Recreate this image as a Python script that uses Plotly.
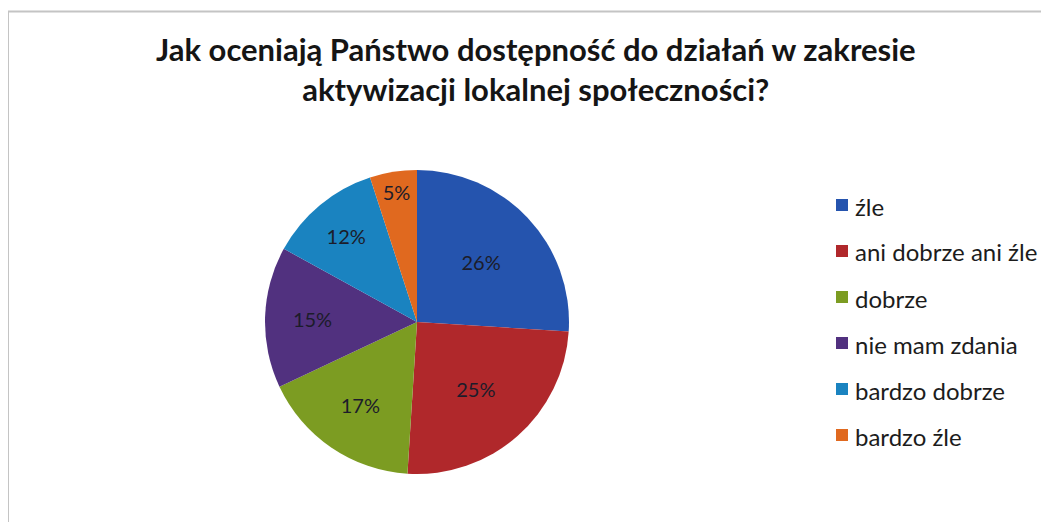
import plotly.graph_objects as go

categories = ["źle", "ani dobrze ani źle", "dobrze", "nie mam zdania", "bardzo dobrze", "bardzo źle"]
values = [26, 25, 17, 15, 12, 5]
colors = ["#2554AE", "#B0282B", "#7C9C22", "#51317F", "#1A83C0", "#E0691F"]
title_lines = ["Jak oceniają Państwo dostępność do działań w zakresie",
               "aktywizacji lokalnej społeczności?"]

W, H = 1049, 522
OFF = 8  # page body margin
cx, cy, r = 417 - OFF, 322 - OFF, 152

fig = go.Figure()
fig.add_trace(go.Pie(
    labels=categories,
    values=values,
    sort=False,
    direction="clockwise",
    rotation=0,
    marker=dict(colors=colors, line=dict(width=0)),
    textinfo="percent",
    texttemplate="%{percent:.0%}",
    textposition="inside",
    insidetextorientation="horizontal",
    insidetextfont=dict(family="Lato", size=20, color="#1c1c2a"),
    showlegend=False,
    hoverinfo="label+percent",
    domain=dict(x=[(cx - r) / W, (cx + r) / W], y=[1 - (cy + r) / H, 1 - (cy - r) / H]),
))

shapes = [dict(type="rect", xref="paper", yref="paper",
               x0=0.0 / W, x1=1.02, y0=-0.02, y1=1 - (11.5 - OFF) / H,
               line=dict(color="#c4c4c4", width=2), fillcolor="rgba(0,0,0,0)")]
annotations = [dict(text="<br>".join(title_lines), xref="paper", yref="paper",
                    x=(536 - OFF) / W, y=1 - (72 - OFF - 3) / H, xanchor="center", yanchor="middle",
                    showarrow=False, align="center",
                    font=dict(family="Lato", size=31, color="#151515", weight="bold"))]
# Legend drawn as layout decoration
leg_x, leg_y0, leg_dy = 836 - OFF, 205 - OFF, 46.0
for i, (lab, col) in enumerate(zip(categories, colors)):
    y = leg_y0 + i * leg_dy
    shapes.append(dict(type="rect", xref="paper", yref="paper",
                       x0=leg_x / W, x1=(leg_x + 12) / W,
                       y0=1 - (y + 6) / H, y1=1 - (y - 6) / H,
                       fillcolor=col, line=dict(width=0)))
    annotations.append(dict(text=lab, xref="paper", yref="paper",
                            x=(leg_x + 17) / W, y=1 - (y + 1) / H,
                            xanchor="left", yanchor="middle", showarrow=False,
                            font=dict(family="Lato", size=24, color="#1c1c1c")))

fig.update_layout(
    width=W, height=H,
    margin=dict(l=0, r=0, t=0, b=0),
    paper_bgcolor="white",
    plot_bgcolor="white",
    shapes=shapes,
    annotations=annotations,
)
fig.write_html("out.html")
